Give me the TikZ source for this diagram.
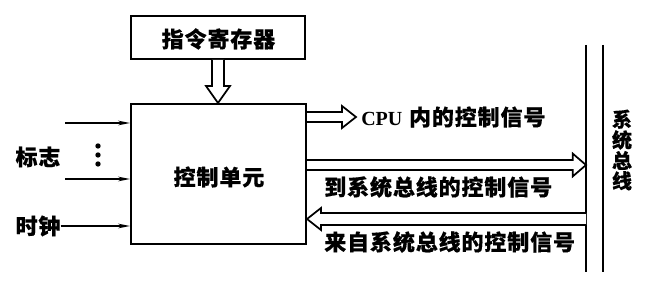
\documentclass[tikz,border=0pt]{standalone}
\usepackage{fontspec}
\usetikzlibrary{arrows.meta,calc}
\newfontfamily\cjk[LetterSpace=4,BoldFeatures={FakeBold=0.4}]{Noto Sans CJK SC}
\newfontfamily\cjkv[BoldFeatures={FakeBold=0.4}]{Noto Sans CJK SC}
\newfontfamily\latinbold{Liberation Serif}
\tikzset{
  box/.style={draw,line width=1.5pt,inner sep=0pt},
  lbl/.style={inner sep=0pt,font=\cjk\bfseries\fontsize{16.5pt}{19pt}\selectfont},
  harrow/.style={draw,line width=1.3pt,line join=miter,fill=white},
  thin/.style={line width=1pt,-{Stealth[length=9pt,width=3.5pt]}},
  busline/.style={line width=2.2pt}
}
\begin{document}
\begin{tikzpicture}[x=0.75pt,y=-0.75pt]
\useasboundingbox (0,0) rectangle (651,288);
% boxes
\node[box,minimum width=130.5pt,minimum height=32.25pt] (ir) at (218,37.5) {};
\node[lbl] at (218.5,39) {指令寄存器};
\node[box,minimum width=131.25pt,minimum height=105pt] (cu) at (218.5,174) {};
\node[lbl] at (219,177) {控制单元};
% bus
\coordinate (b1t) at (586,45); \coordinate (b1b) at (586,272);
\coordinate (b2t) at (603,45); \coordinate (b2b) at (603,272);
\draw[busline] (b1t) -- (b1b);
\draw[busline] (b2t) -- (b2b);
\node[inner sep=0pt,align=center,font=\cjkv\bfseries\fontsize{15pt}{13.2pt}\selectfont] (busl) at (622,150) {系\\统\\总\\线};
% down hollow arrow
\draw[harrow] let \p1=(ir.south),\p2=(cu.north) in
  (\x1-4.5pt,\y1) -- (\x1-4.5pt,\y2+12.75pt) -- (\x1-9pt,\y2+12.75pt) -- (\x1,\y2)
  -- (\x1+9pt,\y2+12.75pt) -- (\x1+4.5pt,\y2+12.75pt) -- (\x1+4.5pt,\y1);
% CPU internal arrow
\coordinate (cputip) at (356,117);
\draw[harrow] let \p1=(cu.east |- cputip),\p2=(cputip) in
  (\x1,\y1+3.75pt) -- (\x2-10.5pt,\y1+3.75pt) -- (\x2-10.5pt,\y1+8.25pt) -- (\x2,\y2)
  -- (\x2-10.5pt,\y1-8.25pt) -- (\x2-10.5pt,\y1-3.75pt) -- (\x1,\y1-3.75pt);
\node[lbl,anchor=west] (cpul) at (361,117) {{\latinbold\bfseries\fontsize{15pt}{17pt}\selectfont CPU}\hspace{5pt}内的控制信号};
% to system bus arrow
\coordinate (totip) at (586,165);
\draw[harrow] let \p1=(cu.east |- totip),\p2=(totip) in
  (\x1,\y1+3.75pt) -- (\x2-10pt,\y1+3.75pt) -- (\x2-10pt,\y1+8.6pt) -- (\x2,\y2)
  -- (\x2-10pt,\y1-8.6pt) -- (\x2-10pt,\y1-3.75pt) -- (\x1,\y1-3.75pt);
\node[lbl,anchor=west] (tol) at (324,187) {到系统总线的控制信号};
% from system bus arrow
\coordinate (fromst) at (586,219);
\draw[harrow] let \p1=(fromst),\p2=(cu.east |- fromst) in
  (\x1,\y1+4.5pt) -- (\x2+10.5pt,\y1+4.5pt) -- (\x2+10.5pt,\y1+8.25pt) -- (\x2,\y2)
  -- (\x2+10.5pt,\y1-8.25pt) -- (\x2+10.5pt,\y1-4.5pt) -- (\x1,\y1-4.5pt);
\node[lbl,anchor=west] (froml) at (324,242) {来自系统总线的控制信号};
% left inputs
\node[lbl] (flag) at (38,157) {标志};
\node[lbl] (clk) at (38,226) {时钟};
\coordinate (in1) at (65,123);
\coordinate (in2) at (65,179);
\draw[thin] (in1) -- (cu.west |- in1);
\draw[thin] (in2) -- (cu.west |- in2);
\draw[thin] (clk.east) -- (cu.west |- clk.east);
\foreach \yy in {146,155,164} \fill (98,\yy) circle (2pt);
\end{tikzpicture}
\end{document}
